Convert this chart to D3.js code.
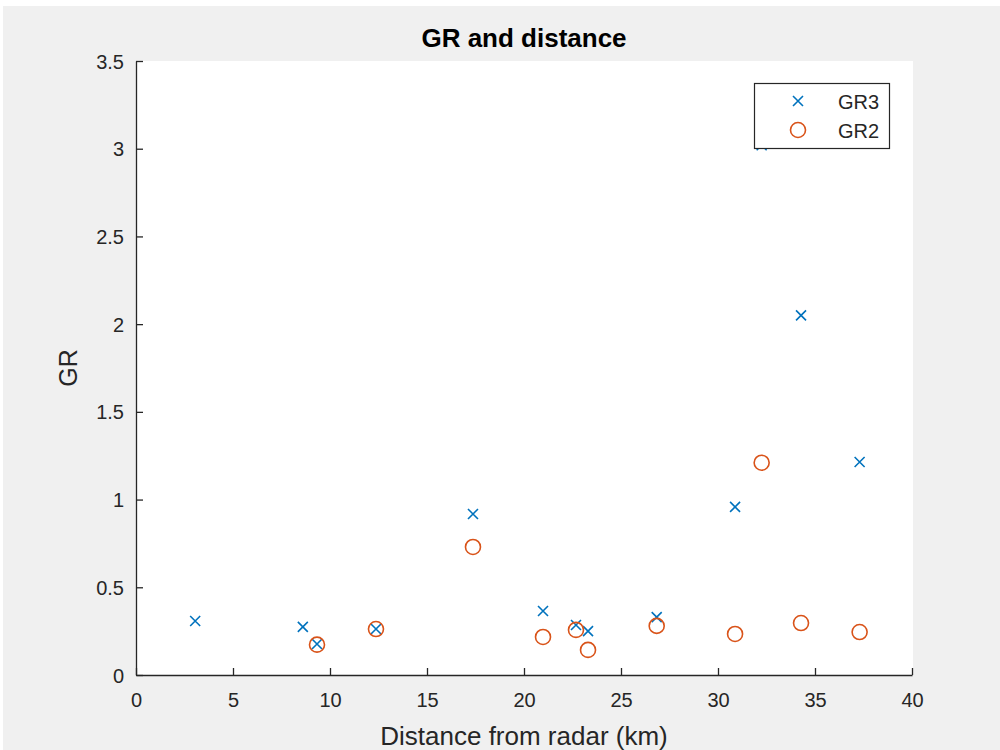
<!DOCTYPE html>
<html><head><meta charset="utf-8">
<script src="https://cdn.jsdelivr.net/npm/d3@7"></script>
<style>body{margin:0;background:#fff;}svg{display:block;font-family:"Liberation Sans",Arial,sans-serif;}</style>
</head><body><svg id="c" width="1000" height="750"></svg>
<script>
const gr3Dist = [3.05, 8.6, 9.33, 12.37, 17.37, 20.98, 22.68, 23.3, 26.84, 30.88, 32.25, 34.28, 37.3];
const gr3Vals = [0.308, 0.274, 0.177, 0.262, 0.918, 0.365, 0.285, 0.25, 0.33, 0.958, 3.02, 2.05, 1.214];
const gr2Dist = [9.33, 12.37, 17.37, 20.98, 22.68, 23.3, 26.84, 30.88, 32.25, 34.28, 37.3];
const gr2Vals = [0.173, 0.262, 0.73, 0.217, 0.257, 0.143, 0.28, 0.234, 1.21, 0.296, 0.245];
const xTicks = [0, 5, 10, 15, 20, 25, 30, 35, 40];
const yTicks = [0, 0.5, 1, 1.5, 2, 2.5, 3, 3.5];
const seriesNames = ["GR3", "GR2"];

const svg = d3.select("#c");
svg.append("rect").attr("x",3).attr("y",6).attr("width",997).attr("height",744).attr("fill","#f0f0f0");
const L=136, R=912, T=61, B=675;
svg.append("rect").attr("x",L).attr("y",T).attr("width",R-L+1).attr("height",B-T).attr("fill","#fff");
const x = d3.scaleLinear().domain([0,40]).range([L,R]);
const y = d3.scaleLinear().domain([0,3.5]).range([B,T]);
const tc = "#262626";

const xa = svg.append("g").attr("transform",`translate(0,${B})`)
  .call(d3.axisBottom(x).tickValues(xTicks).tickFormat(d3.format("")).tickSizeInner(-7).tickSizeOuter(0).tickPadding(18));
const ya = svg.append("g").attr("transform",`translate(${L},0)`)
  .call(d3.axisLeft(y).tickValues(yTicks).tickFormat(d=>d).tickSizeInner(-7).tickSizeOuter(0).tickPadding(12));
[xa,ya].forEach(a=>{
  a.selectAll("path").attr("stroke",tc).attr("stroke-width",1.3);
  a.selectAll("line").attr("stroke",tc).attr("stroke-width",1.3);
  a.selectAll("text").attr("fill",tc).style("font-size","20px").style("font-family","'Liberation Sans',Arial,sans-serif");
});
xa.selectAll("text").attr("dy","0.71em");
ya.selectAll("text").attr("dy","0.35em");

svg.append("text").attr("x",(L+R)/2).attr("y",47).attr("text-anchor","middle")
  .attr("font-weight","bold").attr("font-size","26px").attr("fill","#000").text("GR and distance");
svg.append("text").attr("x",(L+R)/2).attr("y",745).attr("text-anchor","middle")
  .attr("font-size","26px").attr("fill",tc).text("Distance from radar (km)");
svg.append("text").attr("transform",`translate(77,${(T+B)/2}) rotate(-90)`).attr("text-anchor","middle")
  .attr("font-size","25px").attr("fill",tc).text("GR");

const blue="#0072BD", orange="#D95319";
function cross(g,cx,cy){
  const s=5;
  g.append("path").attr("d",`M${cx-s},${cy-s}L${cx+s},${cy+s}M${cx-s},${cy+s}L${cx+s},${cy-s}`)
   .attr("stroke",blue).attr("stroke-width",1.6).attr("fill","none");
}
const pts = svg.append("g");
gr3Dist.forEach((d,i)=>cross(pts,x(d),y(gr3Vals[i])));
pts.selectAll("circle").data(gr2Dist.map((d,i)=>[d,gr2Vals[i]])).join("circle")
  .attr("cx",d=>x(d[0])).attr("cy",d=>y(d[1])).attr("r",7.5)
  .attr("fill","none").attr("stroke",orange).attr("stroke-width",1.6);

const lg = svg.append("g");
lg.append("rect").attr("x",754.5).attr("y",83.5).attr("width",135).attr("height",65)
  .attr("fill","#fff").attr("stroke",tc).attr("stroke-width",1.2);
cross(lg,798,101);
lg.append("circle").attr("cx",798).attr("cy",130).attr("r",7.5).attr("fill","none").attr("stroke",orange).attr("stroke-width",1.6);
seriesNames.forEach((n,i)=>lg.append("text").attr("x",838).attr("y",109+i*29).attr("font-size","20px").attr("fill",tc).text(n));
</script></body></html>
